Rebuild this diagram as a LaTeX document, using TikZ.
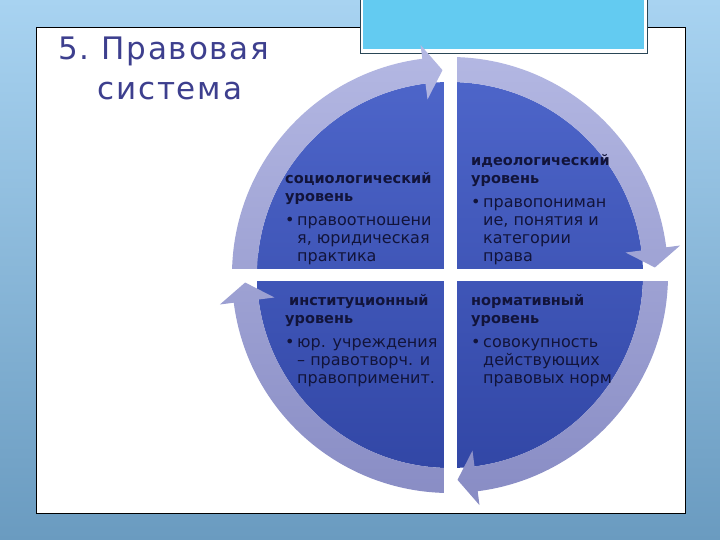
\documentclass[tikz,border=0pt]{standalone}
\usepackage{fontspec}
\setmainfont{DejaVu Sans}
\newfontfamily\titlefont[LetterSpace=6]{DejaVu Sans}
\usepackage{tikz}

\definecolor{bgtop}{HTML}{A8D3F1}
\definecolor{bgbot}{HTML}{6A9BC0}
\definecolor{boxcyan}{HTML}{63CBF1}
\definecolor{boxline}{HTML}{2A4656}
\definecolor{disctop}{HTML}{4D65C9}
\definecolor{discbot}{HTML}{3247A6}
\definecolor{ringtop}{HTML}{B4B8E3}
\definecolor{ringbot}{HTML}{888CC4}
\definecolor{titleblue}{HTML}{3D3F8E}
\definecolor{txtnavy}{HTML}{12143A}

\newcommand{\lvlbul}{\makebox[12pt][l]{•}}
\newcommand{\lvlind}{\hspace*{12pt}}
\newcommand{\lvlhead}[1]{{\fontsize{14.5}{18}\selectfont\bfseries #1}}

\tikzset{
	lvltext/.style={align=left,anchor=north west,inner sep=0pt,text=txtnavy,font=\fontsize{16}{18}\selectfont},
	titletext/.style={align=left,anchor=north west,inner sep=0pt,text=titleblue,font=\titlefont\fontsize{31}{40}\selectfont}
}

\begin{document}
\begin{tikzpicture}[x=1pt,y=-1pt]
	\useasboundingbox (0,0) rectangle (720,540);
	%BACKGROUND
	\shade[top color=bgtop,bottom color=bgbot] (0,0) rectangle (720,540);
	\draw[fill=white,line width=0.8pt] (36,27) rectangle (685,513);	%slide panel
	
	%TOP BOX
	\draw[fill=white,draw=boxline,line width=0.6pt] (360,-2) rectangle (647,53);
	\fill[boxcyan] (363,-2) rectangle (644,49);
	
	%CYCLE
	\begin{scope}[shift={(450,275)}]
		\shade[top color=disctop,bottom color=discbot] (0,0) circle (193);	%dark disc
		\shade[top color=ringtop,bottom color=ringbot]
			\foreach \a [evaluate=\a as \aend using \a+82.7, evaluate=\a as \atip using \a+87.9] in {180,270,360,450}{
				(\a:218) arc[start angle=\a,end angle=\aend,radius=218] -- (\aend:232) -- (\atip:205) -- (\aend:177) -- (\aend:193) arc[start angle=\aend,end angle=\a,radius=193] -- cycle
			};	%ring arcs with arrowheads
		\fill[white] (-6.5,-219) rectangle (6.5,219);	%vertical gap
		\fill[white] (-219,-6) rectangle (219,6);		%horizontal gap
	\end{scope}
	
	%LABELS
	\node[titletext] (title) at (58,37) {5.\ Правовая\\\hspace*{39pt}система};
	%
	\node[lvltext] (soclvl) at (285,172) {\lvlhead{социологический}\\\lvlhead{уровень}\\[6pt]\lvlbul правоотношени\\\lvlind я, юридическая\\\lvlind практика};
	\node[lvltext] (idlvl) at (471,154) {\lvlhead{идеологический}\\\lvlhead{уровень}\\[6pt]\lvlbul правопониман\\\lvlind ие, понятия и\\\lvlind категории\\\lvlind права};
	\node[lvltext] (instlvl) at (285,294) {\hspace*{4pt}\lvlhead{институционный}\\\lvlhead{уровень}\\[6pt]\lvlbul юр. учреждения\\\lvlind – правотворч. и\\\lvlind правоприменит.};
	\node[lvltext] (normlvl) at (471,294) {\lvlhead{нормативный}\\\lvlhead{уровень}\\[6pt]\lvlbul совокупность\\\lvlind действующих\\\lvlind правовых норм};
\end{tikzpicture}
\end{document}
